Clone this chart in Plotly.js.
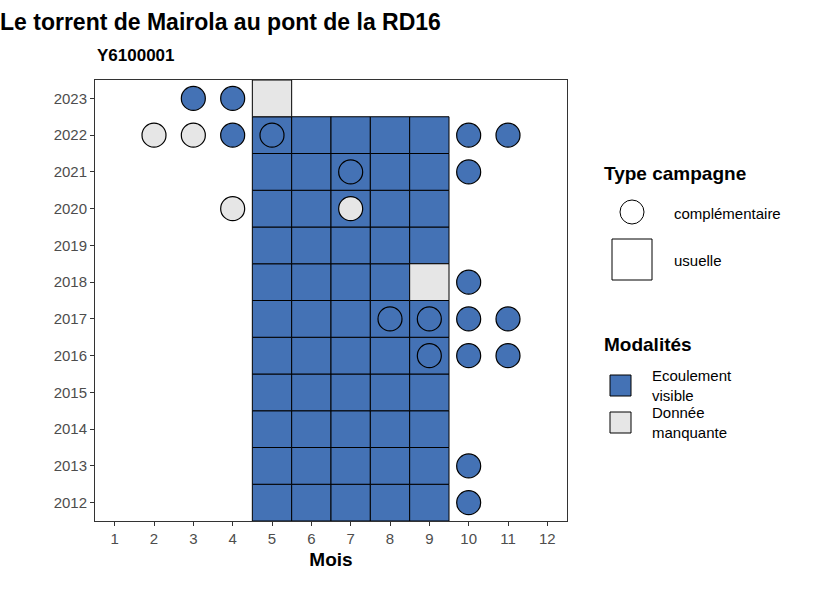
<!DOCTYPE html>
<html>
<head>
<meta charset="utf-8">
<script src="https://cdn.plot.ly/plotly-3.0.1.min.js"></script>
</head>
<body style="margin:0">
<div id="chart" style="width:826px;height:590px"></div>
<script>
// usuelle campaigns (tiles)
var tileMonths = [5,6,7,8,9];
var tileYears = [2012,2013,2014,2015,2016,2017,2018,2019,2020,2021,2022];
var missingTiles = [[9,2018],[5,2023]];

// complementaire campaigns (circles)
var circMonth = [3,4, 2,3,4,5,10,11, 7,10, 4,7, 10, 8,9,10,11, 9,10,11, 10, 10];
var circYear  = [2023,2023, 2022,2022,2022,2022,2022,2022, 2021,2021, 2020,2020, 2018, 2017,2017,2017,2017, 2016,2016,2016, 2013, 2012];
var circMod   = ['E','E', 'M','M','E','E','E','E', 'E','E', 'M','M', 'E', 'E','E','E','E', 'E','E','E', 'E', 'E'];

var BLUE = '#4472b5', GREY = '#e6e6e6';
var L = 95, R = 567, T = 80, B = 521;
function px(x){ return (x - L) / (R - L); }
function py(y){ return (B - y) / (B - T); }

var shapes = [];
function tile(m, y, col){
  shapes.push({type:'rect', xref:'x', yref:'y', x0:m-0.5, x1:m+0.5, y0:y-0.5, y1:y+0.5,
    fillcolor:col, line:{color:'black', width:1}, layer:'below'});
}
tileYears.forEach(function(y){
  tileMonths.forEach(function(m){
    var miss = missingTiles.some(function(t){ return t[0]==m && t[1]==y; });
    if (!miss) tile(m, y, BLUE);
  });
});
missingTiles.forEach(function(t){ tile(t[0], t[1], GREY); });

// legend drawn by hand
shapes.push({type:'circle', xref:'paper', yref:'paper', x0:px(620), x1:px(644), y0:py(224), y1:py(200),
  line:{color:'black', width:1}, fillcolor:'white'});
shapes.push({type:'rect', xref:'paper', yref:'paper', x0:px(612), x1:px(652), y0:py(280), y1:py(239),
  line:{color:'black', width:1}, fillcolor:'white'});
shapes.push({type:'rect', xref:'paper', yref:'paper', x0:px(610), x1:px(631), y0:py(396), y1:py(375),
  line:{color:'black', width:1}, fillcolor:BLUE});
shapes.push({type:'rect', xref:'paper', yref:'paper', x0:px(610), x1:px(631), y0:py(433), y1:py(412),
  line:{color:'black', width:1}, fillcolor:GREY});

function ann(x, y, text, size, bold){
  return {xref:'paper', yref:'paper', x:px(x), y:py(y), text:bold ? '<b>'+text+'</b>' : text,
    showarrow:false, xanchor:'left', yanchor:'middle', align:'left',
    font:{size:size, color:'black', family:'Liberation Sans, Arial'}};
}
var annotations = [
  ann(602, 173, 'Type campagne', 19, true),
  ann(672, 213, 'complémentaire', 15),
  ann(672, 260, 'usuelle', 15),
  ann(602, 345, 'Modalités', 19, true),
  ann(650, 385, 'Ecoulement<br>visible', 15),
  ann(650, 422, 'Donnée<br>manquante', 15),
  {xref:'paper', yref:'paper', x:0, y:py(56), text:'<b>Y6100001</b>', showarrow:false,
    xanchor:'left', yanchor:'middle', font:{size:17, color:'black', family:'Liberation Sans, Arial'}}
];

var trace = {
  x: circMonth, y: circYear, mode:'markers', type:'scatter', hoverinfo:'x+y',
  marker:{size:24, color: circMod.map(function(c){ return c=='E' ? BLUE : GREY; }),
    line:{color:'black', width:1.2}},
  showlegend:false
};

var layout = {
  width:826, height:590,
  margin:{l:L, r:826-R, t:T, b:590-B},
  paper_bgcolor:'white', plot_bgcolor:'white',
  title:{text:'<b>Le torrent de Mairola au pont de la RD16</b>', x:px(95), xanchor:'left',
    y:1-22/590, yanchor:'middle', font:{size:23, color:'black', family:'Liberation Sans, Arial'}},
  xaxis:{range:[0.5,12.5], tickvals:[1,2,3,4,5,6,7,8,9,10,11,12], showgrid:false, zeroline:false,
    showline:true, mirror:true, linecolor:'#333', linewidth:1, ticks:'outside', ticklen:4, tickcolor:'#333',
    tickfont:{size:15, color:'#4d4d4d', family:'Liberation Sans, Arial'},
    title:{text:'<b>Mois</b>', standoff:6, font:{size:19, color:'black', family:'Liberation Sans, Arial'}}},
  yaxis:{range:[2011.5,2023.5], dtick:1, showgrid:false, zeroline:false,
    showline:true, mirror:true, linecolor:'#333', linewidth:1, ticks:'outside', ticklen:4, tickcolor:'#333',
    tickfont:{size:15, color:'#4d4d4d', family:'Liberation Sans, Arial'}},
  shapes:shapes, annotations:annotations
};

Plotly.newPlot('chart', [trace], layout, {displayModeBar:false});
</script>
</body>
</html>
